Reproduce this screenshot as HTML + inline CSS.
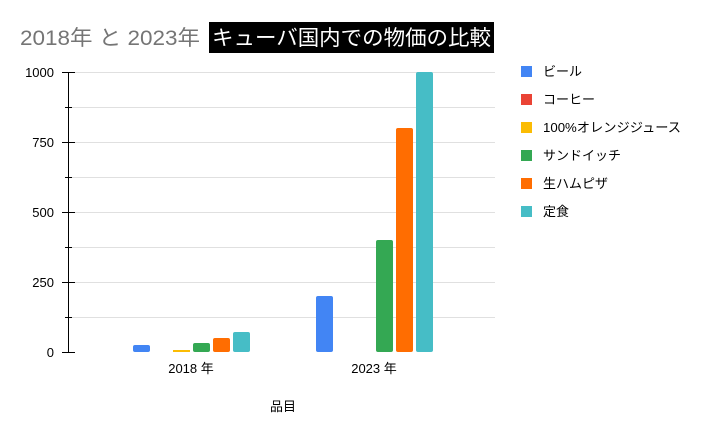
<!DOCTYPE html>
<html><head><meta charset="utf-8"><style>
body{margin:0;background:#fff;}
svg text{font-family:"Liberation Sans","Noto Sans CJK JP",sans-serif;}
</style></head><body>
<svg width="704" height="435" xmlns="http://www.w3.org/2000/svg">
<rect width="704" height="435" fill="#fff"/>
<text x="20" y="45" font-size="21" fill="#757575" textLength="180" lengthAdjust="spacingAndGlyphs">2018年 と 2023年</text>
<rect x="209" y="22" width="285" height="31" fill="#000"/>
<text x="212" y="45" font-size="21" fill="#fff" textLength="279" lengthAdjust="spacingAndGlyphs">キューバ国内での物価の比較</text>
<g stroke="#e0e0e0" stroke-width="1">
<line x1="68" x2="495" y1="72.5" y2="72.5"/><line x1="68" x2="495" y1="107.5" y2="107.5"/>
<line x1="68" x2="495" y1="142.5" y2="142.5"/><line x1="68" x2="495" y1="177.5" y2="177.5"/>
<line x1="68" x2="495" y1="212.5" y2="212.5"/><line x1="68" x2="495" y1="247.5" y2="247.5"/>
<line x1="68" x2="495" y1="282.5" y2="282.5"/><line x1="68" x2="495" y1="317.5" y2="317.5"/>
</g>
<g stroke="#000" stroke-width="1">
<line x1="68.5" x2="68.5" y1="72" y2="352"/>
<line x1="62" x2="75" y1="72.5" y2="72.5"/><line x1="62" x2="75" y1="142.5" y2="142.5"/>
<line x1="62" x2="75" y1="212.5" y2="212.5"/><line x1="62" x2="75" y1="282.5" y2="282.5"/>
<line x1="62" x2="75" y1="352.5" y2="352.5"/>
<line x1="65" x2="72" y1="107.5" y2="107.5"/><line x1="65" x2="72" y1="177.5" y2="177.5"/>
<line x1="65" x2="72" y1="247.5" y2="247.5"/><line x1="65" x2="72" y1="317.5" y2="317.5"/>
</g>
<g font-size="13" fill="#000" text-anchor="end">
<text x="54" y="77">1000</text><text x="54" y="147">750</text><text x="54" y="217">500</text>
<text x="54" y="287">250</text><text x="54" y="357">0</text>
</g>
<g>
<rect x="133" y="345" width="17" height="7" rx="2" fill="#4285f4"/>
<rect x="173" y="350" width="17" height="2" fill="#fbbc04"/>
<rect x="193" y="343" width="17" height="9" rx="2" fill="#34a853"/>
<rect x="213" y="338" width="17" height="14" rx="2" fill="#ff6d01"/>
<rect x="233" y="332" width="17" height="20" rx="2" fill="#46bdc6"/>
<rect x="316" y="296" width="17" height="56" rx="2" fill="#4285f4"/>
<rect x="376" y="240" width="17" height="112" rx="2" fill="#34a853"/>
<rect x="396" y="128" width="17" height="224" rx="2" fill="#ff6d01"/>
<rect x="416" y="72" width="17" height="280" rx="2" fill="#46bdc6"/>
</g>
<g font-size="13" fill="#000" text-anchor="middle">
<text x="191" y="373">2018 年</text><text x="374" y="373">2023 年</text>
<text x="283" y="411">品目</text>
</g>
<g font-size="13" fill="#000">
<rect x="521" y="66" width="11" height="11" fill="#4285f4"/><text x="543" y="76">ビール</text>
<rect x="521" y="94" width="11" height="11" fill="#ea4335"/><text x="543" y="104">コーヒー</text>
<rect x="521" y="122" width="11" height="11" fill="#fbbc04"/><text x="543" y="132" textLength="138" lengthAdjust="spacingAndGlyphs">100%オレンジジュース</text>
<rect x="521" y="150" width="11" height="11" fill="#34a853"/><text x="543" y="160">サンドイッチ</text>
<rect x="521" y="178" width="11" height="11" fill="#ff6d01"/><text x="543" y="188">生ハムピザ</text>
<rect x="521" y="206" width="11" height="11" fill="#46bdc6"/><text x="543" y="216">定食</text>
</g>
</svg>
</body></html>
